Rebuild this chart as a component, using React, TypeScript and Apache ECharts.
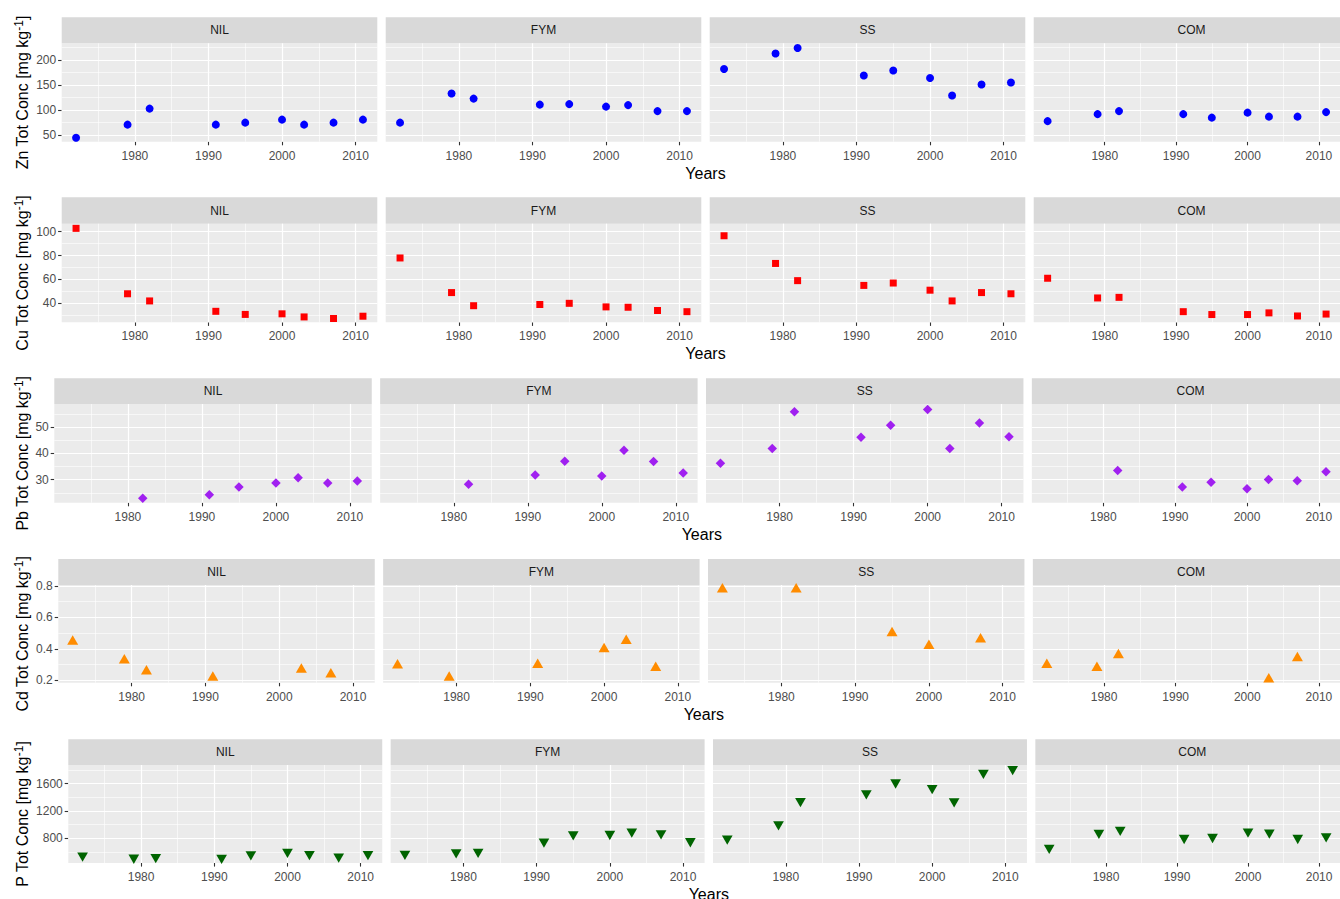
import React, { useEffect, useRef } from "react";
import * as echarts from "echarts";

const FONT = "'Liberation Sans', Arial, Helvetica, sans-serif";

// ---- data ----
const years = [1972, 1979, 1982, 1991, 1995, 2000, 2003, 2007, 2011];
const treatments = ["NIL", "FYM", "SS", "COM"];
const xBreaks = [1980, 1990, 2000, 2010];
const xMinor = [1975, 1985, 1995, 2005];

const znNIL = [45, 71, 103, 71, 75, 81, 71, 75, 81];
const znFYM = [75, 133, 123, 111, 112, 107, 110, 98, 98];
const znSS = [182, 213, 224, 169, 179, 164, 129, 151, 155];
const znCOM = [78, 92, 98, 92, 85, 95, 87, 87, 96];

const cuNIL = [102.8, 48, 42, 33.3, 30.7, 31.2, 28.6, 27.3, 29.2];
const cuFYM = [78, 49, 38, 39, 40, 37, 36.7, 34, 33];
const cuSS = [96.6, 73.4, 59, 55, 57, 51, 42, 49, 48];
const cuCOM = [61, 44.5, 45, 33, 30.6, 30.6, 32, 29.4, 31];

const pbNIL = [null, null, 22.9, 24.2, 27.2, 28.7, 30.7, 28.7, 29.5];
const pbFYM = [null, null, 28.2, 31.8, 37.0, 31.4, 41.2, 36.9, 32.5];
const pbSS = [36.3, 41.9, 55.9, 46.2, 50.8, 56.8, 41.9, 51.6, 46.4];
const pbCOM = [null, null, 33.5, 27.2, 29.0, 26.5, 30.1, 29.6, 33.0];

const cdNIL = [0.456, 0.337, 0.267, 0.228, null, null, 0.278, 0.248, null];
const cdFYM = [0.306, 0.228, null, 0.308, null, 0.408, 0.461, 0.289, null];
const cdSS = [0.788, null, 0.788, null, 0.51, 0.429, null, 0.47, null];
const cdCOM = [0.308, 0.289, 0.37, null, null, null, 0.217, 0.351, null];

const pNIL = [520, 490, 499, 488, 541, 575, 544, 507, 543];
const pFYM = [546, 570, 575, 727, 834, 839, 873, 849, 732];
const pSS = [771, 981, 1322, 1434, 1595, 1512, 1317, 1737, 1791];
const pCOM = [634, 854, 898, 780, 795, 873, 859, 780, 805];

const znBreaks = [50, 100, 150, 200];
const znMinor = [75, 125, 175, 225];
const cuBreaks = [40, 60, 80, 100];
const cuMinor = [30, 50, 70, 90];
const pbBreaks = [30, 40, 50];
const pbMinor = [25, 35, 45, 55];
const cdBreaks = [0.2, 0.4, 0.6, 0.8];
const cdMinor = [0.3, 0.5, 0.7];
const pBreaks = [800, 1200, 1600];
const pMinor = [600, 1000, 1400, 1800];

// ---- per-row definitions ----
const elements = [
  { name: "Zn", values: [znNIL, znFYM, znSS, znCOM], yMin: 37, yMax: 233.3, yBreaks: znBreaks, yMinor: znMinor, symbol: "circle", size: 8, rotate: 0, color: "#0000FF" },
  { name: "Cu", values: [cuNIL, cuFYM, cuSS, cuCOM], yMin: 24.1, yMax: 106.7, yBreaks: cuBreaks, yMinor: cuMinor, symbol: "rect", size: 7, rotate: 0, color: "#FF0000" },
  { name: "Pb", values: [pbNIL, pbFYM, pbSS, pbCOM], yMin: 21.2, yMax: 58.9, yBreaks: pbBreaks, yMinor: pbMinor, symbol: "diamond", size: 9.5, rotate: 0, color: "#A020F0" },
  { name: "Cd", values: [cdNIL, cdFYM, cdSS, cdCOM], yMin: 0.185, yMax: 0.806, yBreaks: cdBreaks, yMinor: cdMinor, symbol: "triangle", size: [11, 9.5], rotate: 0, color: "#FF8C00" },
  { name: "P", values: [pNIL, pFYM, pSS, pCOM], yMin: 435, yMax: 1874, yBreaks: pBreaks, yMinor: pMinor, symbol: "triangle", size: [10.7, 9.3], rotate: 180, color: "#006400" },
];

const rowLayout = [
  { left: 61.7, stripTop: 17.3, plotTop: 43.3, plotBottom: 141.7 },
  { left: 61.7, stripTop: 197.3, plotTop: 223.7, plotBottom: 322.3 },
  { left: 54.3, stripTop: 378.3, plotTop: 404, plotBottom: 502.7 },
  { left: 58.3, stripTop: 559, plotTop: 585, plotBottom: 682.7 },
  { left: 68.3, stripTop: 739.3, plotTop: 765, plotBottom: 863 },
];
const RIGHT = 1349.3;
const GAP = 8.4;
const X_MIN = 1970.05;
const X_MAX = 2012.95;

function buildOption() {
  const grid: any[] = [];
  const xAxis: any[] = [];
  const yAxis: any[] = [];
  const series: any[] = [];
  const graphic: any[] = [];
  const fmt = (v: number) => String(v);

  elements.forEach((el, r) => {
    const lay = rowLayout[r];
    const w = (RIGHT - lay.left - 3 * GAP) / 4;
    const h = lay.plotBottom - lay.plotTop;
    treatments.forEach((tr, i) => {
      const idx = grid.length;
      const left = lay.left + i * (w + GAP);
      grid.push({
        left, top: lay.plotTop, width: w, height: h,
        show: true, backgroundColor: "#EBEBEB", borderWidth: 0, containLabel: false,
      });
      xAxis.push({
        type: "value", gridIndex: idx, min: X_MIN, max: X_MAX,
        axisLine: { show: false },
        splitLine: { show: false },
        axisTick: { show: true, customValues: xBreaks, length: 3.6, lineStyle: { color: "#333333", width: 1.1 } },
        axisLabel: { show: true, customValues: xBreaks, formatter: fmt, color: "#4D4D4D", fontSize: 12, fontFamily: FONT, margin: 8 },
      });
      const first = i === 0;
      yAxis.push({
        type: "value", gridIndex: idx, min: el.yMin, max: el.yMax,
        axisLine: { show: false },
        splitLine: { show: false },
        axisTick: { show: first, customValues: el.yBreaks, length: 3.6, lineStyle: { color: "#333333", width: 1.1 } },
        axisLabel: { show: first, customValues: el.yBreaks, formatter: fmt, color: "#4D4D4D", fontSize: 12, fontFamily: FONT, margin: 5.5 },
      });
      const lines: any[] = [];
      xMinor.forEach((v) => lines.push({ xAxis: v, lineStyle: { width: 0.6 } }));
      el.yMinor.forEach((v) => lines.push({ yAxis: v, lineStyle: { width: 0.6 } }));
      xBreaks.forEach((v) => lines.push({ xAxis: v, lineStyle: { width: 1.2 } }));
      el.yBreaks.forEach((v) => lines.push({ yAxis: v, lineStyle: { width: 1.2 } }));
      series.push({
        type: "line", xAxisIndex: idx, yAxisIndex: idx, data: [], silent: true,
        markLine: {
          silent: true, symbol: "none", animation: false,
          label: { show: false },
          lineStyle: { color: "#FFFFFF", type: "solid" },
          emphasis: { disabled: true },
          data: lines,
        },
      });
      const vals = el.values[i];
      series.push({
        type: "scatter", xAxisIndex: idx, yAxisIndex: idx, z: 10,
        name: el.name + " " + tr,
        data: years.map((y, k) => [y, vals[k]]).filter((d) => d[1] !== null && d[1] !== undefined),
        symbol: el.symbol, symbolSize: el.size, symbolRotate: el.rotate,
        itemStyle: { color: el.color, opacity: 1 },
        emphasis: { disabled: true },
      });
      // strip
      graphic.push({
        type: "rect", silent: true,
        shape: { x: left, y: lay.stripTop, width: w, height: lay.plotTop - lay.stripTop },
        style: { fill: "#D9D9D9" },
      });
      graphic.push({
        type: "text", silent: true,
        x: left + w / 2, y: (lay.stripTop + lay.plotTop) / 2,
        style: { text: tr, fontSize: 12, fontFamily: FONT, fill: "#1A1A1A", align: "center", verticalAlign: "middle" },
      });
    });
    // x-axis title
    graphic.push({
      type: "text", silent: true,
      x: (lay.left + RIGHT) / 2, y: lay.plotBottom + 31.5,
      style: { text: "Years", fontSize: 16, fontFamily: FONT, fill: "#000000", align: "center", verticalAlign: "middle" },
    });
    // y-axis title
    graphic.push({
      type: "text", silent: true,
      x: 22, y: (lay.plotTop + lay.plotBottom) / 2, rotation: Math.PI / 2,
      style: {
        text: "{n|" + el.name + " Tot Conc [mg kg}{s|-1}{n|]}",
        align: "center", verticalAlign: "middle", fill: "#000000", fontFamily: FONT, fontSize: 16,
        rich: {
          n: { fontSize: 16, lineHeight: 19, fontFamily: FONT, fill: "#000000" },
          s: { fontSize: 12, lineHeight: 12, verticalAlign: "top", fontFamily: FONT, fill: "#000000" },
        },
      },
    });
  });

  return {
    animation: false,
    backgroundColor: "#FFFFFF",
    textStyle: { fontFamily: FONT },
    grid, xAxis, yAxis, series, graphic,
  };
}

export default function App() {
  const ref = useRef<HTMLDivElement>(null);
  useEffect(() => {
    if (!ref.current) return;
    const chart = echarts.init(ref.current, null, { renderer: "svg" });
    chart.setOption(buildOption() as any);
    return () => chart.dispose();
  }, []);
  return (
    <div
      ref={ref}
      style={{ position: "fixed", left: 0, top: 0, width: 1340, height: 899, background: "#fff" }}
    />
  );
}
